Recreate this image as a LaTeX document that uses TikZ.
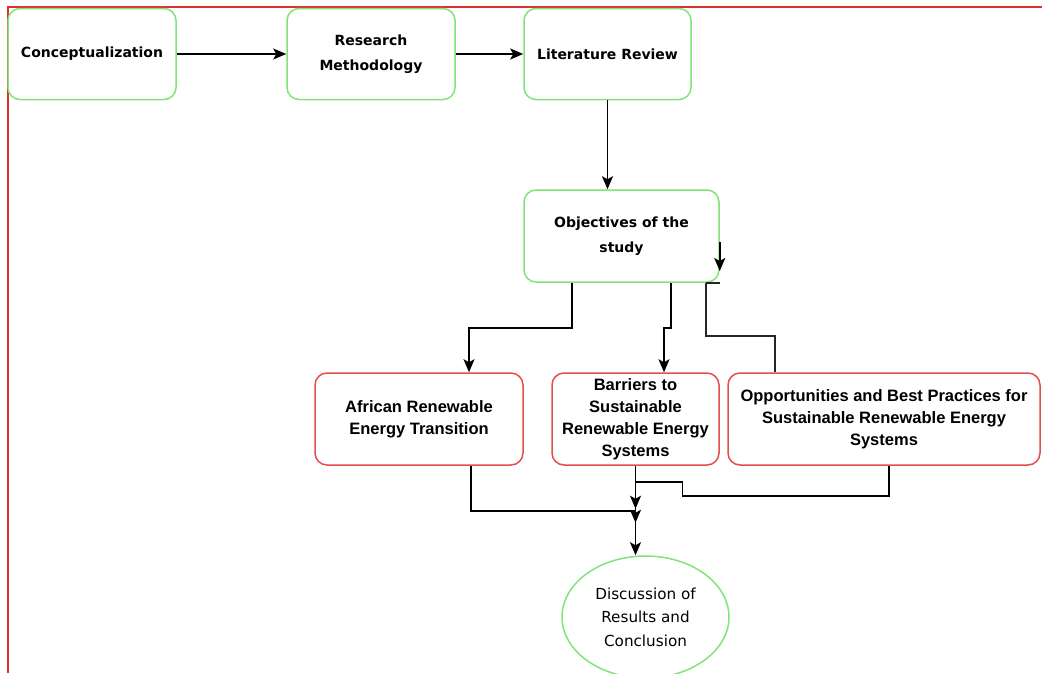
\documentclass[tikz,border=0pt]{standalone}
\usepackage{fontspec}
\setmainfont{DejaVu Sans}
\newfontfamily\arialf{Liberation Sans}
\usetikzlibrary{shapes.geometric,arrows.meta,calc}
\definecolor{gbord}{RGB}{128,228,118}
\definecolor{rbord}{RGB}{228,78,78}
\definecolor{frame}{RGB}{220,50,50}
\begin{document}
\begin{tikzpicture}[x=1pt,y=-1pt,
  gbox/.style={draw=gbord, line width=1.5pt, rounded corners=12pt, fill=white, align=center,
    inner sep=0pt, font=\bfseries\fontsize{14}{24.5}\selectfont},
  rbox/.style={draw=rbord, line width=1.5pt, rounded corners=12pt, fill=white, align=center,
    inner sep=0pt, font=\arialf\bfseries\fontsize{16.5}{22}\selectfont},
  gell/.style={draw=gbord, line width=1.5pt, ellipse, fill=white, align=center,
    inner sep=0pt, font=\fontsize{15.2}{23.5}\selectfont},
  arr/.style={draw=black, line width=1.6pt, -{Stealth[length=13pt,width=11pt,inset=3pt]}},
  plain/.style={draw=black!85, line width=1.6pt},
  framel/.style={draw=frame, line width=2pt}]
\useasboundingbox (0,0) rectangle (1042,673);
\draw[framel] (8,673) -- (8,7) -- (1042,7);

\node[gbox, minimum width=168pt, minimum height=91pt] (c) at (92,54) {Conceptualization};
\node[gbox, minimum width=168pt, minimum height=91pt] (r) at (371,54) {Research\\Methodology};
\node[gbox, minimum width=167pt, minimum height=91pt] (l) at (607.5,54) {Literature Review};
\node[gbox, minimum width=195pt, minimum height=92pt] (o) at (621.5,236) {Objectives of the\\study};

\node[rbox, minimum width=208pt, minimum height=92pt] (a) at (419,419) {African Renewable\\Energy Transition};
\node[rbox, minimum width=167pt, minimum height=92pt] (b) at (635.5,419) {Barriers to\\Sustainable\\Renewable Energy\\Systems};
\node[rbox, minimum width=312pt, minimum height=92pt] (p) at (884,419) {Opportunities and Best Practices for\\Sustainable Renewable Energy\\Systems};

\node[gell, minimum width=167pt, minimum height=122pt] (d) at (645.5,617) {Discussion of\\Results and\\Conclusion};

% top row
\draw[arr] (c.east) -- (r.west);
\draw[arr] (r.east) -- (l.west);
\draw[arr] (l.south) -- (l.south |- o.north);
% odd arrow at right of objectives
\draw[arr] ([yshift=-6pt]o.east) -- ++(0,29);
\draw[plain] ([xshift=-14pt]o.south east) -- (o.south east);
% branches from objectives
\draw[arr] ([xshift=49pt]o.south west) -- ++(0,45) -| ([xshift=50pt]a.north);
\draw[arr] ([xshift=-49pt]o.south east) -- ++(0,45) -| ([xshift=28.5pt]b.north);
\draw[plain] ([xshift=-14pt]o.south east) -- ++(0,53) -| ([xshift=-109pt]p.north);
% to conclusion
\draw[arr] (b.south) -- ++(0,43);
\draw[arr] ([xshift=52pt]a.south) |- ($(b.south)+(0,45)$) -- ++(0,12);
\draw[arr] ([xshift=5pt]p.south) -- ++(0,30) -| ($(b.south)+(47,16)$) -- ($(b.south)+(0,16)$) -- (b.south |- d.north);
\end{tikzpicture}
\end{document}
